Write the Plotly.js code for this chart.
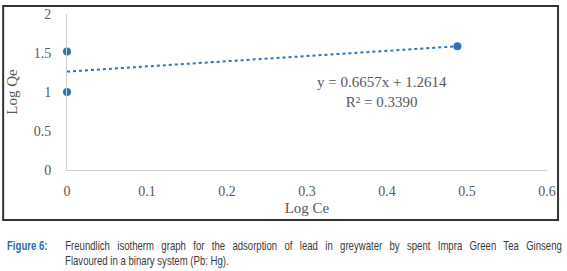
<!DOCTYPE html>
<html>
<head>
<meta charset="utf-8">
<script src="https://cdn.plot.ly/plotly-3.0.1.min.js"></script>
<style>
html,body{margin:0;padding:0;background:#fff;}
#chart{width:567px;height:271px;}
</style>
</head>
<body>
<div id="chart"></div>
<script>
// Data
var logCe = [0, 0, 0.488];
var logQe = [1.0, 1.52, 1.586];
// Trendline equation shown on the chart
var slope = 0.6657;
var intercept = 1.2614;
var rSquared = 0.3390;
var xTicks = [0, 0.1, 0.2, 0.3, 0.4, 0.5, 0.6];
var xTickLabels = ['0', '0.1', '0.2', '0.3', '0.4', '0.5', '0.6'];
var yTicks = [0, 0.5, 1, 1.5, 2];
var yTickLabels = ['0', '0.5', '1', '1.5', '2'];
var captionLabel = 'Figure 6:';
var captionLine1 = 'Freundlich isotherm graph for the adsorption of lead in greywater by spent Impra Green Tea Ginseng';
var captionLine2 = 'Flavoured in a binary system (Pb: Hg).';

var xMin = Math.min.apply(null, logCe), xMax = Math.max.apply(null, logCe);
var trendX = [xMin, xMax];
var trendY = trendX.map(function(x){ return slope * x + intercept; });

var serif = 'Liberation Serif, Times New Roman, serif';
var sans = 'Liberation Sans, Arial, sans-serif';
var gray = '#595959';
var blue = '#2E75B6';

var traces = [
  {x: trendX, y: trendY, mode: 'lines', line: {color: blue, width: 2, dash: 'dot'}, hoverinfo: 'skip', showlegend: false, cliponaxis: false},
  {x: logCe, y: logQe, mode: 'markers', marker: {color: blue, size: 8}, showlegend: false, cliponaxis: false}
];

var layout = {
  width: 567, height: 271,
  margin: {l: 67, r: 20, t: 14, b: 101},
  paper_bgcolor: '#fff', plot_bgcolor: '#fff',
  showlegend: false,
  xaxis: {
    range: [0, 0.6], tickvals: xTicks, ticktext: xTickLabels,
    showgrid: false, zeroline: false, showline: true, linecolor: '#d0d0d0', linewidth: 1,
    ticks: 'outside', ticklen: 8, tickcolor: 'rgba(0,0,0,0)',
    tickfont: {family: serif, size: 14, color: gray},
    title: {text: 'Log Ce', font: {family: serif, size: 15, color: gray}, standoff: 4},
    fixedrange: true
  },
  yaxis: {
    range: [0, 2], tickvals: yTicks, ticktext: yTickLabels,
    showgrid: false, zeroline: false, showline: true, linecolor: '#d0d0d0', linewidth: 1,
    ticks: 'outside', ticklen: 12, tickcolor: 'rgba(0,0,0,0)',
    tickfont: {family: serif, size: 14, color: gray},
    title: {text: 'Log Qe', font: {family: serif, size: 15, color: gray}, standoff: 12},
    fixedrange: true
  },
  annotations: [
    {xref: 'x', yref: 'y', x: 0.394, y: 1.0, xanchor: 'center', yanchor: 'middle', showarrow: false,
     text: 'y = ' + slope.toFixed(4) + 'x + ' + intercept.toFixed(4) + '<br>R² = ' + rSquared.toFixed(4),
     font: {family: serif, size: 15, color: gray}, align: 'center'},
    {xref: 'paper', yref: 'paper', x: -0.129, y: -0.485, xanchor: 'left', yanchor: 'middle', showarrow: false,
     text: '<b>' + captionLabel + '</b>', font: {family: sans, size: 12, color: '#2B6CB0'}},
    {xref: 'paper', yref: 'paper', x: -0.0083, y: -0.485, xanchor: 'left', yanchor: 'middle', showarrow: false,
     text: captionLine1, font: {family: sans, size: 12, color: '#3a3a3a'}},
    {xref: 'paper', yref: 'paper', x: -0.0083, y: -0.581, xanchor: 'left', yanchor: 'middle', showarrow: false,
     text: captionLine2, font: {family: sans, size: 12, color: '#3a3a3a'}}
  ],
  shapes: [
    {type: 'rect', xref: 'paper', yref: 'paper', x0: -0.133, x1: 1.023, y0: -0.3205, y1: 1.051,
     line: {color: '#333', width: 2}, fillcolor: 'rgba(0,0,0,0)', layer: 'below'}
  ]
};

Plotly.newPlot('chart', traces, layout, {displayModeBar: false, staticPlot: true}).then(function(gd){
  // Condense caption text horizontally (narrow typeface look) and justify the first line
  var texts = gd.querySelectorAll('.annotation-text');
  var squeeze = 0.80;
  var justifyWidth = 497; // px, reference first line width
  for (var i = 1; i < texts.length; i++) {
    var el = texts[i];
    var bb0 = el.getBBox();
    var left = bb0.x;
    var bb = bb0;
    if (i === 2) {
      var nSpaces = (captionLine1.match(/ /g) || []).length;
      var extra = (justifyWidth / squeeze - bb0.width) / nSpaces;
      if (extra > 0) el.style.wordSpacing = extra + 'px';
      bb = el.getBBox();
    }
    el.setAttribute('transform', 'translate(' + left + ',0) scale(' + squeeze + ',1) translate(' + (-bb.x) + ',0)');
  }
});
</script>
</body>
</html>
